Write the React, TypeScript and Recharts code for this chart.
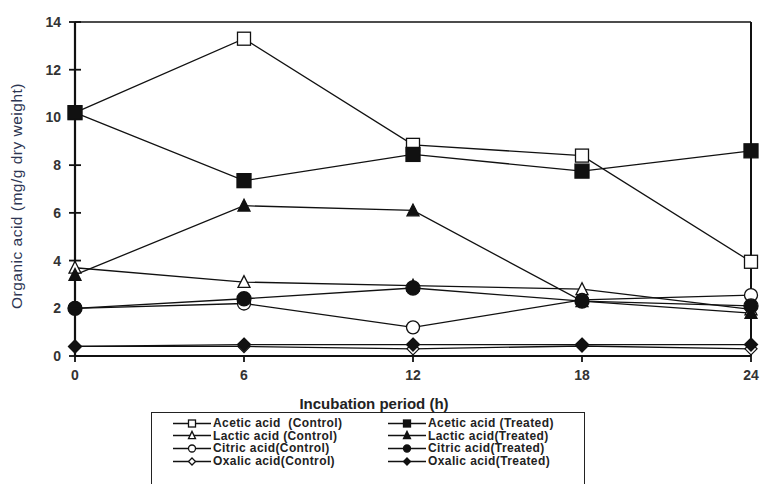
import React from 'react';
import { LineChart, Line, XAxis, YAxis, ReferenceLine } from 'recharts';

const hours = [0, 6, 12, 18, 24];
const yTicks = [0, 2, 4, 6, 8, 10, 12, 14];

const aceticControl = [10.2, 13.3, 8.85, 8.4, 3.95];
const aceticTreated = [10.2, 7.35, 8.45, 7.75, 8.6];
const lacticControl = [3.7, 3.1, 2.95, 2.8, 1.95];
const lacticTreated = [3.4, 6.3, 6.1, 2.3, 1.8];
const citricControl = [2.0, 2.2, 1.2, 2.35, 2.55];
const citricTreated = [2.0, 2.4, 2.85, 2.3, 2.1];
const oxalicControl = [0.4, 0.4, 0.3, 0.42, 0.3];
const oxalicTreated = [0.4, 0.48, 0.48, 0.48, 0.48];

const data = hours.map((h, i) => ({
  h,
  aceticControl: aceticControl[i],
  aceticTreated: aceticTreated[i],
  lacticControl: lacticControl[i],
  lacticTreated: lacticTreated[i],
  citricControl: citricControl[i],
  citricTreated: citricTreated[i],
  oxalicControl: oxalicControl[i],
  oxalicTreated: oxalicTreated[i],
}));

type Kind = 'square' | 'triangle' | 'circle' | 'diamond';

function Marker({ cx, cy, kind, filled, s }: { cx: number; cy: number; kind: Kind; filled: boolean; s: number }) {
  const fill = filled ? '#111' : '#fff';
  const stroke = '#111';
  const sw = 1.3;
  if (kind === 'square') {
    return <rect x={cx - s / 2} y={cy - s / 2} width={s} height={s} fill={fill} stroke={stroke} strokeWidth={sw} />;
  }
  if (kind === 'triangle') {
    const h = s * 0.9;
    return (
      <polygon
        points={`${cx},${cy - h / 2 - 1} ${cx - s / 2},${cy + h / 2} ${cx + s / 2},${cy + h / 2}`}
        fill={fill}
        stroke={stroke}
        strokeWidth={sw}
      />
    );
  }
  if (kind === 'circle') {
    return <circle cx={cx} cy={cy} r={s / 2} fill={fill} stroke={stroke} strokeWidth={sw} />;
  }
  return (
    <polygon
      points={`${cx},${cy - s / 2} ${cx + s / 2},${cy} ${cx},${cy + s / 2} ${cx - s / 2},${cy}`}
      fill={fill}
      stroke={stroke}
      strokeWidth={sw}
    />
  );
}

const seriesDefs: { key: string; name: string; kind: Kind; filled: boolean; size: number }[] = [
  { key: 'aceticControl', name: 'Acetic acid  (Control)', kind: 'square', filled: false, size: 13 },
  { key: 'aceticTreated', name: 'Acetic acid (Treated)', kind: 'square', filled: true, size: 14 },
  { key: 'lacticControl', name: 'Lactic acid (Control)', kind: 'triangle', filled: false, size: 12 },
  { key: 'lacticTreated', name: 'Lactic acid(Treated)', kind: 'triangle', filled: true, size: 12 },
  { key: 'citricControl', name: 'Citric acid(Control)', kind: 'circle', filled: false, size: 13 },
  { key: 'citricTreated', name: 'Citric acid(Treated)', kind: 'circle', filled: true, size: 14 },
  { key: 'oxalicControl', name: 'Oxalic acid(Control)', kind: 'diamond', filled: false, size: 12 },
  { key: 'oxalicTreated', name: 'Oxalic acid(Treated)', kind: 'diamond', filled: true, size: 13 },
];

const fontFamily = 'Arial, "Liberation Sans", sans-serif';
const tickFont = { fontFamily, fontSize: 14, fontWeight: 700, fill: '#333' };

function YTick(props: any) {
  const { x, y, payload } = props;
  return (
    <g>
      <line x1={x - 6} x2={x + 6} y1={y} y2={y} stroke="#111" strokeWidth={1.8} />
      <text x={x - 14} y={y} dy={5} textAnchor="end" {...tickFont}>
        {payload.value}
      </text>
    </g>
  );
}

function LegendIcon({ kind, filled }: { kind: Kind; filled: boolean }) {
  return (
    <svg width={38} height={11} style={{ display: 'block' }}>
      <line x1={0} x2={38} y1={5.5} y2={5.5} stroke="#111" strokeWidth={1.3} />
      <Marker cx={19} cy={5.5} kind={kind} filled={filled} s={7} />
    </svg>
  );
}

export default function App() {
  return (
    <div style={{ position: 'relative', width: 765, height: 484, background: '#fff', overflow: 'hidden' }}>
      <style>{`body{margin:0}`}</style>
      <LineChart width={765} height={484} data={data} margin={{ top: 22, right: 14, bottom: 98, left: 0 }}>
        <XAxis
          dataKey="h"
          type="number"
          domain={[0, 24]}
          ticks={hours}
          tick={{ ...tickFont, dy: 6 }}
          axisLine={{ stroke: '#111', strokeWidth: 2.2 }}
          tickLine={{ stroke: '#111', strokeWidth: 1.8 }}
          tickSize={6}
          height={30}
          label={() => (
            <text x={374} y={409} textAnchor="middle" fontFamily={fontFamily} fontSize={15} fontWeight={700} fill="#222">
              Incubation period (h)
            </text>
          )}
        />
        <YAxis
          type="number"
          domain={[0, 14]}
          ticks={yTicks}
          width={75}
          tick={<YTick />}
          tickLine={false}
          tickSize={0}
          tickMargin={0}
          axisLine={{ stroke: '#111', strokeWidth: 2.2 }}
          label={() => (
            <text
              x={22}
              y={196}
              transform="rotate(-90 22 196)"
              textAnchor="middle"
              fontFamily={fontFamily}
              fontSize={15.5}
              letterSpacing={0.5}
              fill="#2d3552"
            >
              Organic acid (mg/g dry weight)
            </text>
          )}
        />
        <ReferenceLine y={14} stroke="#111" strokeWidth={1.6} />
        <ReferenceLine x={24} stroke="#111" strokeWidth={2} />
        {seriesDefs.map((s) => (
          <Line
            key={s.key}
            dataKey={s.key}
            name={s.name}
            type="linear"
            stroke="#111"
            strokeWidth={1.3}
            isAnimationActive={false}
            dot={(p: any) => <Marker key={`${s.key}-${p.index}`} cx={p.cx} cy={p.cy} kind={s.kind} filled={s.filled} s={s.size} />}
            activeDot={false}
          />
        ))}
      </LineChart>
      <div
        style={{
          position: 'absolute',
          left: 151,
          top: 412,
          width: 434,
          height: 80,
          border: '1.5px solid #222',
          boxSizing: 'border-box',
          fontFamily,
          fontSize: 12,
          fontWeight: 600,
          letterSpacing: 0.4,
          color: '#222',
        }}
      >
        {seriesDefs.map((s, i) => {
          const col = i % 2;
          const row = Math.floor(i / 2);
          return (
            <div
              key={s.key}
              style={{
                position: 'absolute',
                left: col === 0 ? 21 : 236,
                top: 4 + row * 12.7,
                display: 'flex',
                alignItems: 'center',
                gap: 2,
                height: 12,
                lineHeight: '12px',
                whiteSpace: 'pre',
              }}
            >
              <LegendIcon kind={s.kind} filled={s.filled} />
              <span>{s.name}</span>
            </div>
          );
        })}
      </div>
    </div>
  );
}
